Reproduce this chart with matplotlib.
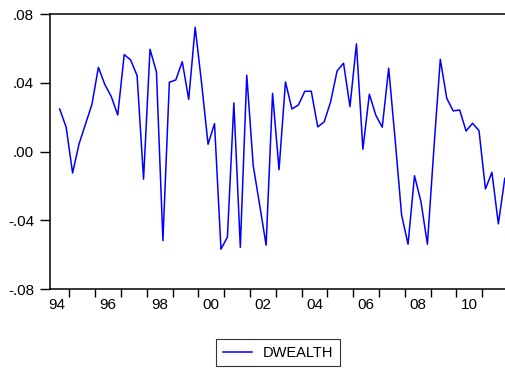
import numpy as np
import matplotlib
matplotlib.use('Agg')
import matplotlib.pyplot as plt

plt.rcParams['font.family'] = ['Liberation Sans', 'DejaVu Sans']

# quarterly series, 1994Q3 .. 2011Q4
dwealth = [0.0248, 0.0142, -0.0124, 0.0045, 0.0160, 0.0275, 0.0490, 0.0390,
           0.0320, 0.0213, 0.0564, 0.0533, 0.0442, -0.0160, 0.0595, 0.0463,
           -0.0517, 0.0403, 0.0417, 0.0523, 0.0304, 0.0723, 0.0397, 0.0043,
           0.0163, -0.0567, -0.0496, 0.0283, -0.0556, 0.0444, -0.0081, -0.0310,
           -0.0544, 0.0339, -0.0105, 0.0405, 0.0248, 0.0271, 0.0351, 0.0351,
           0.0144, 0.0173, 0.0290, 0.0469, 0.0514, 0.0262, 0.0626, 0.0014,
           0.0334, 0.0212, 0.0142, 0.0485, 0.0070, -0.0368, -0.0538, -0.0140,
           -0.0290, -0.0538, 0.0014, 0.0537, 0.0310, 0.0237, 0.0242, 0.0120,
           0.0165, 0.0122, -0.0217, -0.0120, -0.0420, -0.0155]
year_labels = ['94', '96', '98', '00', '02', '04', '06', '08', '10']
yticks = [-0.08, -0.04, 0.0, 0.04, 0.08]
ytick_labels = ['-.08', '-.04', '.00', '.04', '.08']

x = np.arange(len(dwealth))

W, H = 505, 371
fig = plt.figure(figsize=(W / 100, H / 100), dpi=100)
left, right, top, bottom = 49.5, 515, 14, 289.3
ax = fig.add_axes([left / W, 1 - bottom / H, (right - left) / W, (bottom - top) / H])

line, = ax.plot(x, dwealth, color='#0000ff', lw=1.1, label='DWEALTH')

ax.set_xlim(-1.58, len(dwealth) - 1 + 1.58)
ax.set_ylim(-0.08, 0.08)

# year boundaries get ticks, labels sit mid-year every second year
ax.set_xticks(np.arange(1.5, len(dwealth), 4))
ax.set_xticklabels([])
ax.set_xticks(np.arange(-0.5, len(dwealth), 8), minor=True)
ax.set_xticklabels(year_labels, minor=True)
ax.tick_params(axis='x', which='major', direction='out', length=6, width=1.0)
ax.tick_params(axis='x', which='minor', length=0, pad=6, labelsize=11)

ax.set_yticks(yticks)
ax.set_yticklabels(ytick_labels)
ax.tick_params(axis='y', direction='out', length=7, width=1.0, pad=4, labelsize=11)

for s in ax.spines.values():
    s.set_linewidth(1.1)
    s.set_color('black')

leg = fig.legend(handles=[line], loc='center',
                 bbox_to_anchor=(278.3 / W, 1 - 352.8 / H),
                 fancybox=False, edgecolor='black', fontsize=10.5,
                 handlelength=2.0, handletextpad=0.75, borderpad=0.45)
leg.get_frame().set_linewidth(0.8)

fig.savefig('out.png', dpi=100)
